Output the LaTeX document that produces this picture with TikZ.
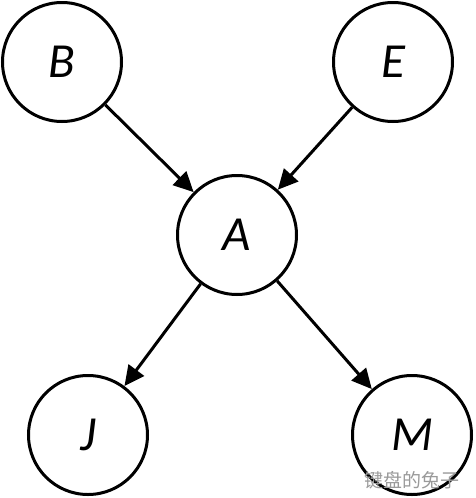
\documentclass[tikz,border=0pt]{standalone}
\usepackage{fontspec}
\setmainfont{Carlito}
\newfontfamily\cjk{Noto Sans CJK SC}
\usetikzlibrary{arrows.meta}
\definecolor{ink}{HTML}{000000}
\definecolor{mark}{HTML}{9A9A9A}

\begin{document}
\begin{tikzpicture}[x=1pt,y=1pt,
  var/.style={draw=ink,fill=white,circle,line width=3pt,minimum size=119pt,inner sep=0pt,font=\fontsize{49}{49}\selectfont\itshape},
  edge/.style={-{Triangle[length=20pt,width=19pt]},line width=3pt,ink}]
\useasboundingbox (0,0) rectangle (475,-498);
\node[var] (b) at (62,-62) {B};
\node[var] (e) at (393,-62) {E};
\node[var] (a) at (237,-235) {A};
\node[var] (j) at (88,-435) {J};
\node[var] (m) at (412,-435) {M};
\foreach \s/\t in {b/a,e/a,a/j,a/m} \draw[edge] (\s)--(\t);
\node[anchor=east,text=mark,font=\cjk\fontsize{19}{19}\selectfont,inner sep=0pt] (wm) at (460,-480) {键盘的兔子};
\end{tikzpicture}
\end{document}
